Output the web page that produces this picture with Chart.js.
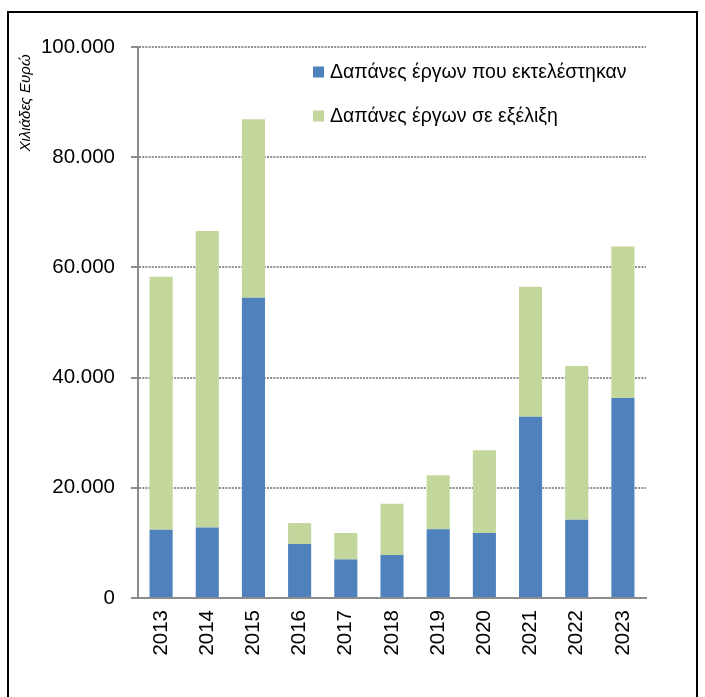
<!DOCTYPE html>
<html>
<head>
<meta charset="utf-8">
<script src="https://cdn.jsdelivr.net/npm/chart.js@4"></script>
<style>
  html, body { margin: 0; padding: 0; background: #fff; }
  #wrap { width: 705px; height: 697px; position: relative; }
</style>
</head>
<body>
<div id="wrap"><canvas id="c" width="705" height="697"></canvas></div>
<script>
const years = ['2013','2014','2015','2016','2017','2018','2019','2020','2021','2022','2023'];
const completed = [12400, 12800, 54500, 9800, 7000, 7800, 12500, 11800, 32900, 14200, 36300];
const inProgress = [45900, 53800, 32400, 3800, 4800, 9300, 9800, 15000, 23600, 27900, 27500];
const seriesNames = ['Δαπάνες έργων που εκτελέστηκαν', 'Δαπάνες έργων σε εξέλιξη'];
const yTicks = [0, 20000, 40000, 60000, 80000, 100000];
const yTitle = 'Χιλιάδες Ευρώ';

const FONT = '"Liberation Sans", Arial, sans-serif';
const colors = ['#4F81BD', '#C3D69B'];

const fmt = v => v === 0 ? '0' : String(v).replace(/\B(?=(\d{3})+(?!\d))/g, '.');

const overlay = {
  id: 'overlay',
  afterDraw(chart) {
    const ctx = chart.ctx;
    ctx.save();
    // frame
    ctx.strokeStyle = '#000';
    ctx.lineWidth = 2;
    ctx.beginPath();
    ctx.moveTo(8, 710); ctx.lineTo(8, 12); ctx.lineTo(697, 12); ctx.lineTo(697, 710);
    ctx.stroke();
    // legend
    const ys = [72, 116];
    ctx.font = '19.5px ' + FONT;
    ctx.textBaseline = 'middle';
    ctx.textAlign = 'left';
    chart.data.datasets.forEach((ds, i) => {
      ctx.fillStyle = ds.backgroundColor;
      ctx.fillRect(313, ys[i] - 5.5, 11, 11);
      ctx.fillStyle = '#000';
      ctx.fillText(ds.label, 330, ys[i] + 1);
    });
    // y title
    ctx.translate(26, 103);
    ctx.rotate(-Math.PI / 2);
    ctx.font = 'italic 15px ' + FONT;
    ctx.textAlign = 'center';
    ctx.textBaseline = 'middle';
    ctx.fillText(yTitle, 0, 0);
    ctx.restore();
  }
};

new Chart(document.getElementById('c'), {
  type: 'bar',
  data: {
    labels: years,
    datasets: [
      { label: seriesNames[0], data: completed, backgroundColor: colors[0], borderWidth: 0, barPercentage: 0.5, categoryPercentage: 1.0 },
      { label: seriesNames[1], data: inProgress, backgroundColor: colors[1], borderWidth: 0, barPercentage: 0.5, categoryPercentage: 1.0 }
    ]
  },
  options: {
    responsive: false,
    animation: false,
    layout: { padding: { left: 0, right: 59, top: 47, bottom: 0 } },
    plugins: { legend: { display: false }, tooltip: { enabled: false }, title: { display: false } },
    scales: {
      x: {
        stacked: true,
        offset: true,
        grid: { display: false, drawTicks: false },
        border: { display: true, color: '#8c8c8c', width: 2 },
        ticks: { color: '#000', font: { family: FONT, size: 20.5 }, minRotation: 90, maxRotation: 90, padding: 12, autoSkip: false },
        afterFit(s) { s.height = 697 - 598; }
      },
      y: {
        stacked: true,
        min: 0, max: 100000,
        afterBuildTicks(s) { s.ticks = yTicks.map(v => ({ value: v })); },
        grid: {
          color: '#8f8f8f', lineWidth: 2,
          tickLength: 7, tickColor: '#8c8c8c', tickWidth: 2, tickBorderDash: [],
          drawTicks: true
        },
        border: { display: true, color: '#8c8c8c', width: 2, dash: [2, 1.2] },
        ticks: { color: '#000', font: { family: FONT, size: 20.5 }, padding: 16, callback: v => fmt(v) },
        afterFit(s) { s.width = 138; }
      }
    }
  },
  plugins: [overlay]
});
</script>
</body>
</html>
